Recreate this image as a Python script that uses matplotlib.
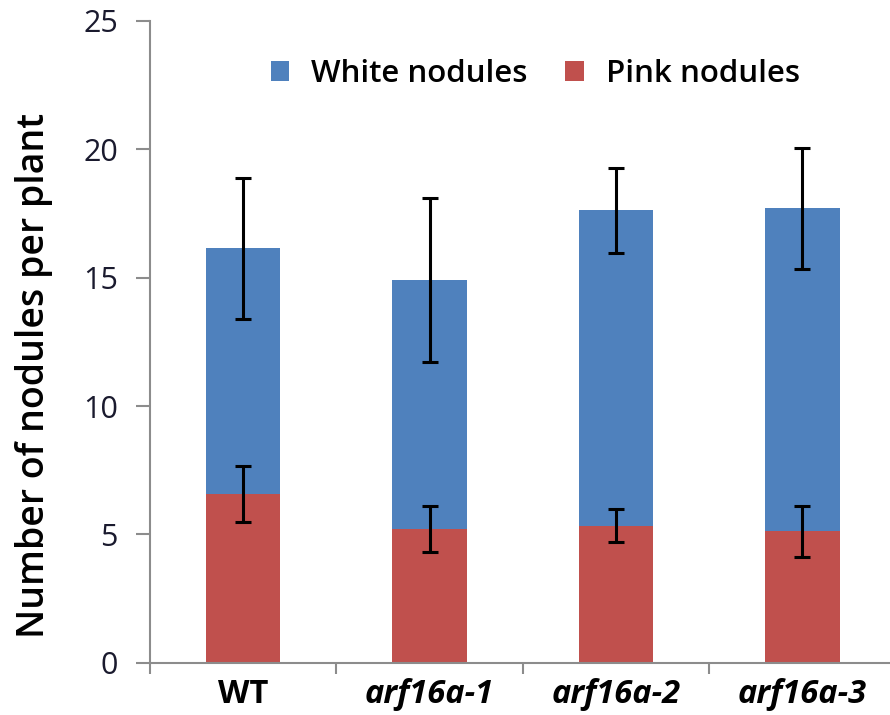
import matplotlib
matplotlib.use("Agg")
import matplotlib.pyplot as plt
import numpy as np

categories = ["WT", "arf16a-1", "arf16a-2", "arf16a-3"]
pink_values = [6.57, 5.22, 5.34, 5.12]
pink_errors = [1.10, 0.89, 0.64, 1.00]
total_values = [16.15, 14.91, 17.62, 17.70]
total_errors = [2.75, 3.18, 1.67, 2.35]
white_values = [t - p for t, p in zip(total_values, pink_values)]
y_ticks = [0, 5, 10, 15, 20, 25]

plt.rcParams['font.family'] = ['Open Sans', 'DejaVu Sans']

W, H = 890, 715
fig = plt.figure(figsize=(W / 100, H / 100), dpi=100)
ax = fig.add_axes([150 / W, (H - 662.7) / H, 745.5 / W, 641.7 / H])

x = np.arange(len(categories))
blue = "#4F81BD"
red = "#C0504D"
err_kw = dict(ecolor="black", elinewidth=2.2, capthick=2.2)

ax.bar(x, pink_values, width=0.40, color=red, yerr=pink_errors,
       capsize=5.5, error_kw=err_kw, label="Pink nodules", zorder=2)
ax.bar(x, white_values, width=0.40, bottom=pink_values, color=blue,
       yerr=total_errors, capsize=5.5, error_kw=err_kw,
       label="White nodules", zorder=2)

ax.set_xlim(-0.5, 3.5)
ax.set_ylim(0, 25)
ax.set_yticks(y_ticks)
ax.set_yticklabels([str(v) for v in y_ticks], fontsize=22, color="#1a1a2e")

ax.set_xticks(x)
ax.set_xticklabels(categories, fontsize=23.5, fontweight="bold")
for lbl in ax.get_xticklabels()[1:]:
    lbl.set_fontstyle("italic")
ax.set_xticks(np.arange(-0.5, 4.0, 1.0), minor=True)
ax.tick_params(axis="x", which="major", length=0, pad=11)
ax.tick_params(axis="x", which="minor", length=8, width=1.5, color="#8c8c8c", direction="out")
ax.tick_params(axis="y", which="major", length=10, width=1.5, color="#8c8c8c", pad=13)

for s in ["top", "right"]:
    ax.spines[s].set_visible(False)
for s in ["left", "bottom"]:
    ax.spines[s].set_color("#8c8c8c")
    ax.spines[s].set_linewidth(1.5)

ax.set_ylabel("Number of nodules per plant", fontsize=27, fontweight="semibold", va="center")
ax.yaxis.set_label_coords(-0.155, 0.447)

handles, labels = ax.get_legend_handles_labels()
leg = ax.legend(handles[::-1], labels[::-1], loc="center", bbox_to_anchor=(0.517, 0.918),
                ncol=2, frameon=False, handlelength=0.6, handleheight=0.6,
                handletextpad=0.7, columnspacing=1.2,
                prop=dict(size=22.5, weight="semibold"))

fig.savefig("out.png", dpi=100)
